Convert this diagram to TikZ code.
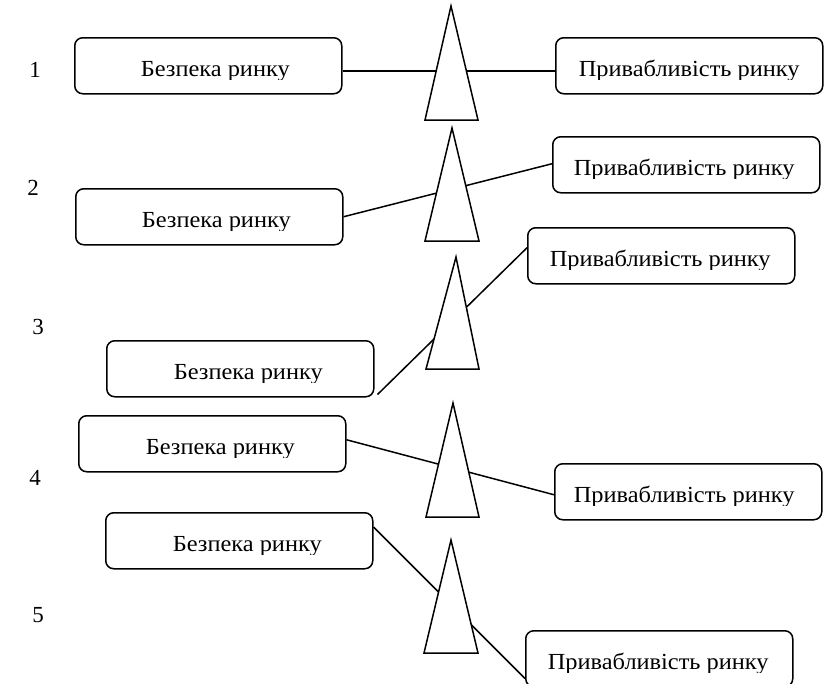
\documentclass[tikz,border=0pt]{standalone}
\usepackage{fontspec}
\setmainfont{Liberation Serif}
\newfontfamily\boxfont[FakeStretch=1.06]{Liberation Serif}
\begin{document}
\begin{tikzpicture}[x=1pt,y=-1pt,
  framebox/.style={draw, rounded corners=8pt, line width=1.5pt,
    minimum width=267pt, minimum height=56pt, inner sep=0pt, anchor=north west},
  labeltext/.style={font=\boxfont\fontsize{23}{27}\selectfont, inner sep=0pt},
  rownum/.style={font=\fontsize{23}{27}\selectfont, inner sep=0pt},
  link/.style={line width=1.5pt},
  prism/.style={draw, fill=white, line width=1.5pt, line join=miter}]
\useasboundingbox (0,0) rectangle (827,683);

% label set inside a box, its lower part cut off by the clip
\newcommand{\cutlabel}[4]{%
  \begin{scope}
    \clip (#1.north west) rectangle ([yshift=-42pt]#1.north east);
    \node[labeltext, anchor=base] (#2) at ([xshift=#3, yshift=-39pt]#1.north) {#4};
  \end{scope}}

% row numbers
\node[rownum] (n1) at (35,70) {1};
\node[rownum] (n2) at (33,188) {2};
\node[rownum] (n3) at (38,327) {3};
\node[rownum] (n4) at (35,478) {4};
\node[rownum] (n5) at (38,615) {5};

% left boxes
\node[framebox] (L1) at (74,37) {};
\node[framebox] (L2) at (75,188) {};
\node[framebox] (L3) at (106,340) {};
\node[framebox] (L4) at (78,415) {};
\node[framebox] (L5) at (105,512) {};

% right boxes
\node[framebox] (R1) at (555,37) {};
\node[framebox] (R2) at (552,136) {};
\node[framebox] (R3) at (527,227) {};
\node[framebox] (R4) at (554,463) {};
\node[framebox] (R5) at (525,630) {};

\cutlabel{L1}{tl1}{7pt}{Безпека ринку}
\cutlabel{L2}{tl2}{7pt}{Безпека ринку}
\cutlabel{L3}{tl3}{8pt}{Безпека ринку}
\cutlabel{L4}{tl4}{8pt}{Безпека ринку}
\cutlabel{L5}{tl5}{8pt}{Безпека ринку}
\cutlabel{R1}{tr1}{0pt}{Привабливість ринку}
\cutlabel{R2}{tr2}{-2pt}{Привабливість ринку}
\cutlabel{R3}{tr3}{-1pt}{Привабливість ринку}
\cutlabel{R4}{tr4}{-4pt}{Привабливість ринку}
\cutlabel{R5}{tr5}{-1pt}{Привабливість ринку}

% connectors
\draw[link] ([yshift=-5pt]L1.east) -- ([yshift=-5pt]R1.west);
\draw[link] (L2.east) -- ([yshift=1pt]R2.west);
\draw[link] ([shift={(3pt,3pt)}]L3.south east) -- ([yshift=8pt]R3.west);
\draw[link] ([yshift=4pt]L4.east) -- ([yshift=-3pt]R4.west);
\draw[link] ([yshift=-15pt]L5.north east) -- ([yshift=9pt]R5.south west);

% prisms laid over the connectors
\draw[prism] (451,6) -- (478,120) -- (425,120) -- cycle;
\draw[prism] (452,128) -- (479,241) -- (425,241) -- cycle;
\draw[prism] (456,257) -- (479,369) -- (426,369) -- cycle;
\draw[prism] (453,403) -- (479,517) -- (426,517) -- cycle;
\draw[prism] (451,540) -- (478,653) -- (424,653) -- cycle;
\end{tikzpicture}
\end{document}
